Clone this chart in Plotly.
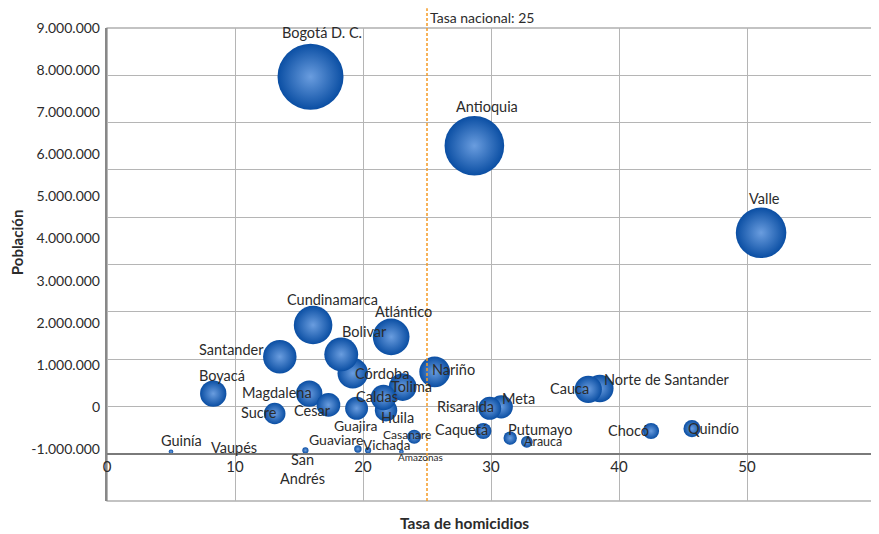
import plotly.graph_objects as go

# ---------------- data ----------------
departamentos = ["Bogotá D. C.", "Antioquia", "Valle", "Cundinamarca", "Atlántico", "Santander",
                 "Córdoba", "Bolivar", "Nariño", "Tolima", "Huila", "Caldas",
                 "Norte de Santander", "Cauca", "Meta", "Risaralda", "Magdalena", "Cesar",
                 "Guajira", "Boyacá", "Sucre", "Caquetá", "Putumayo", "Arauca", "Casanare",
                 "Chocó", "Quindío", "Guaviare", "Vichada", "San<br>Andrés", "Amazonas",
                 "Guinía", "Vaupés"]
tasa_homicidios = [15.9, 28.7, 51.1, 16.1, 22.2, 13.5,
                   19.2, 18.3, 25.6, 23.1, 21.8, 21.6,
                   38.5, 37.6, 30.8, 29.9, 15.8, 17.3,
                   19.5, 8.3, 13.1, 29.4, 31.5, 32.8, 24.0,
                   42.5, 45.7, 19.6, 20.4, 15.5, 23.0,
                   5.0, 10.0]
poblacion = [7970000, 6510000, 4670000, 2720000, 2470000, 2050000,
             1700000, 2100000, 1730000, 1410000, 920000, 1190000,
             1380000, 1360000, 990000, 960000, 1270000, 1030000,
             960000, 1270000, 850000, 480000, 330000, 250000, 360000,
             480000, 530000, 100000, 70000, 70000, 40000,
             40000, 0]

tasa_nacional = 25
x_ticks = [0, 10, 20, 30, 40, 50, 60]
y_tick_vals = [9e6, 8e6, 7e6, 6e6, 5e6, 4e6, 3e6, 2e6, 1e6, 0, -1e6]
y_tick_text = ["9.000.000", "8.000.000", "7.000.000", "6.000.000", "5.000.000", "4.000.000",
               "3.000.000", "2.000.000", "1.000.000", "0", "-1.000.000"]

# ---------------- label styling (pixel offsets from bubble centre) ----------------
label_dx = [11, 13, 3, 19, 12, -48,
            29, 23, 19, 9, 11, -6,
            67, -19, 17, -24, -32, -16,
            -1, 9, -16, -22, 30, 16, -7,
            -23, 22, -22, 18, -3, 19,
            10, -1]
label_dy = [-44, -39, -34, -26, -25, -7,
            0, -23, -2, -1, 7, -1,
            -9, -1, -8, -2, -1, 6,
            17, -18, -1, -2, -9, 0, -2,
            -1, 0, -9, -5, 19, 5,
            -11, -6]
label_size = [14.5] * len(departamentos)
label_size[departamentos.index("Casanare")] = 12
label_size[departamentos.index("Amazonas")] = 10
label_size[departamentos.index("Arauca")] = 12.5
label_size[departamentos.index("Vichada")] = 13.5
label_size[departamentos.index("Guajira")] = 14
label_size[departamentos.index("Guaviare")] = 14

FONT = "Lato"
TXT = "#2b2b2b"
GRID = "#b5b5b5"
AX = "#888888"

max_diam = 66
sizeref = 2 * max(poblacion) / max_diam ** 2

fig = go.Figure()

# invisible trace to keep the label axis alive
fig.add_trace(go.Scatter(x=[x_ticks[0], x_ticks[0]], y=[y_tick_vals[0], y_tick_vals[-1]],
                         mode="markers", marker=dict(opacity=0), yaxis="y2",
                         hoverinfo="skip", showlegend=False))

fig.add_trace(go.Scatter(
    x=tasa_homicidios, y=poblacion, mode="markers",
    text=departamentos,
    marker=dict(size=poblacion, sizemode="area", sizeref=sizeref, sizemin=0,
                color="#0a4ea3", opacity=1,
                gradient=dict(type="radial", color="#6a9ddf"),
                line=dict(width=0)),
    hovertemplate="%{text}<br>%{x}<br>%{y}<extra></extra>",
    showlegend=False))

for name, x, y, dx, dy, fs in zip(departamentos, tasa_homicidios, poblacion,
                                   label_dx, label_dy, label_size):
    fig.add_annotation(x=x, y=y, xref="x", yref="y", text=name, showarrow=False,
                       xshift=dx, yshift=-dy, xanchor="center", yanchor="middle",
                       font=dict(family=FONT, size=fs, color=TXT))

# national rate line
fig.add_shape(type="line", x0=tasa_nacional, x1=tasa_nacional, xref="x",
              y0=0, y1=1.042, yref="paper",
              line=dict(color="#f59a25", width=1.5, dash="3px,2px"))
fig.add_annotation(x=tasa_nacional, y=1.023, xref="x", yref="paper",
                   text=f"Tasa nacional: {tasa_nacional}", showarrow=False,
                   xanchor="left", yanchor="middle", xshift=1,
                   font=dict(family=FONT, size=14, color=TXT))

# frame
fig.add_shape(type="rect", xref="paper", yref="paper", x0=0, x1=1, y0=0, y1=1,
              line=dict(color=AX, width=1.2), layer="below")

# axis titles
fig.add_annotation(x=-0.118, y=0.548, xref="paper", yref="paper", text="<b>Población</b>",
                   textangle=-90, showarrow=False, xanchor="center", yanchor="middle",
                   font=dict(family=FONT, size=15, color=TXT))
fig.add_annotation(x=0.466, y=-0.047, xref="paper", yref="paper",
                   text="<b>Tasa de homicidios</b>", showarrow=False,
                   xanchor="center", yanchor="middle",
                   font=dict(family=FONT, size=15.5, color=TXT))

# page body has an 8px margin, so the figure is offset by (8, 8)
fig.update_layout(
    width=871, height=526,
    margin=dict(l=99, r=4, t=20, b=33, autoexpand=False),
    paper_bgcolor="white", plot_bgcolor="white",
    font=dict(family=FONT, size=14, color=TXT),
    xaxis=dict(range=[0, 60], tickvals=x_ticks, showgrid=True, gridcolor=GRID, gridwidth=1,
               zeroline=False, showline=True, linecolor="#7a7a7a", linewidth=1.5,
               anchor="free", position=0.1, ticks="", automargin=False,
               tickfont=dict(family=FONT, size=15, color=TXT)),
    yaxis=dict(range=[-1e6, 9e6], dtick=1e6, showgrid=True, gridcolor=GRID, gridwidth=1,
               zeroline=False, showline=True, linecolor=AX, linewidth=1.5,
               showticklabels=False, ticks="", automargin=False),
    yaxis2=dict(overlaying="y", side="left", range=[-2.235e6, 9e6],
                tickvals=y_tick_vals, ticktext=y_tick_text, showgrid=False,
                zeroline=False, showline=False, ticks="", automargin=False,
                ticklabelstandoff=6,
                tickfont=dict(family=FONT, size=14, color=TXT)),
)

fig.write_html("out.html")
